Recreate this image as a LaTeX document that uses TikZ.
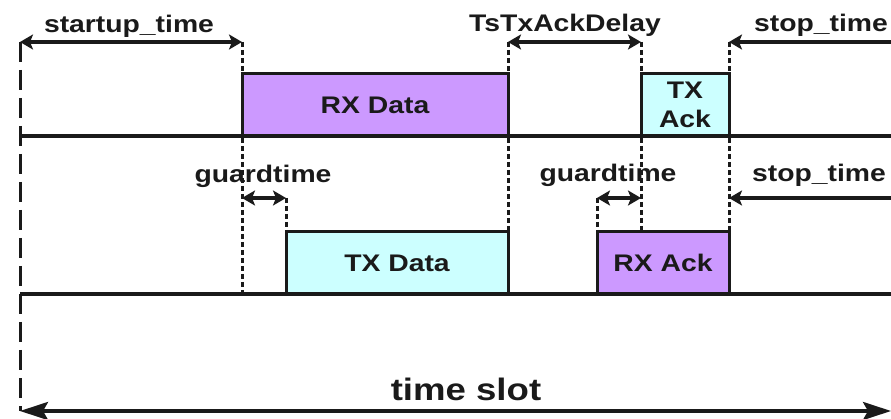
\documentclass[tikz,border=0pt]{standalone}
\usepackage{fontspec}
\usepackage{graphicx}
\setmainfont{Liberation Sans}
\usetikzlibrary{arrows.meta}
\definecolor{rxpurple}{HTML}{CC99FF}
\definecolor{txcyan}{HTML}{CCFFFF}
\definecolor{ink}{HTML}{1A1A1A}
\newcommand\widetext[1]{\scalebox{1.18}[1]{#1}}
\begin{document}
\begin{tikzpicture}[x=1pt,y=-1pt,
  lbl/.style={font=\fontsize{24}{29}\selectfont\bfseries, text=ink, inner sep=0pt, anchor=base},
  slotbox/.style={draw=ink, line width=3pt, inner sep=0pt, outer sep=0pt, anchor=north west,
    minimum height=62pt, font=\fontsize{24}{29}\selectfont\bfseries, text=ink, align=center},
  rxbox/.style={slotbox, fill=rxpurple},
  txbox/.style={slotbox, fill=txcyan},
  baseline/.style={draw=ink, line width=3.5pt},
  marker/.style={draw=ink, line width=3pt, dash pattern=on 5pt off 3pt},
  slotedge/.style={draw=ink, line width=3pt, dash pattern=on 20pt off 8pt},
  span/.style={draw=ink, line width=3.5pt, {Stealth[length=13pt,width=15pt,inset=3pt]}-{Stealth[length=13pt,width=15pt,inset=3pt]}},
  endspan/.style={draw=ink, line width=3.5pt, -{Stealth[length=13pt,width=15pt,inset=3pt]}},
  bigspan/.style={draw=ink, line width=3.5pt, {Stealth[length=28pt,width=18pt,inset=5pt]}-{Stealth[length=28pt,width=18pt,inset=5pt]}}
]
\useasboundingbox[fill=white] (0,0) rectangle (891,419);

% coordinates
\coordinate (L0) at (20,42);
\coordinate (L1) at (20,411);
\coordinate (R1) at (891,411);
\coordinate (a1) at (242,42);
\coordinate (a1b) at (242,294);
\coordinate (a2) at (508,42);
\coordinate (a2b) at (508,232);
\coordinate (a3) at (641,42);
\coordinate (a3b) at (641,232);
\coordinate (a4) at (729,42);
\coordinate (a4b) at (729,232);
\coordinate (g1) at (242,198);
\coordinate (g2) at (286,198);
\coordinate (g2b) at (286,232);
\coordinate (g3) at (597,198);
\coordinate (g3b) at (597,232);
\coordinate (g4) at (641,198);
\coordinate (s1) at (891,42);
\coordinate (s2) at (891,198);
\coordinate (s2e) at (729,198);
\coordinate (b1l) at (20,136);
\coordinate (b1r) at (891,136);
\coordinate (b2l) at (20,294);
\coordinate (b2r) at (891,294);

% base lines
\draw[baseline] (b1l) -- (b1r);
\draw[baseline] (b2l) -- (b2r);

% marker lines
\draw[slotedge] (L0) -- (L1);
\draw[marker] (a1) -- (a1b);
\draw[marker] (a2) -- (a2b);
\draw[marker] (a3) -- (a3b);
\draw[marker] (a4) -- (a4b);
\draw[marker] (g2) -- (g2b);
\draw[marker] (g3) -- (g3b);

% boxes
\node[rxbox, minimum width=266pt] (rxdata) at (242,74) {\widetext{RX Data}};
\node[txbox, minimum width=88pt] (txack) at (641,74) {\widetext{TX}\\\widetext{Ack}};
\node[txbox, minimum width=222pt] (txdata) at (286,232) {\widetext{TX Data}};
\node[rxbox, minimum width=132pt] (rxack) at (597,232) {\widetext{RX Ack}};

% arrows
\draw[span] (L0) -- (a1);
\draw[span] (a2) -- (a3);
\draw[endspan] (s1) -- (a4);
\draw[span] (g1) -- (g2);
\draw[span] (g3) -- (g4);
\draw[endspan] (s2) -- (s2e);
\draw[bigspan] (L1) -- (R1);

% labels
\node[lbl] (tstart) at (129,33) {\widetext{startup\_time}};
\node[lbl] (tdelay) at (565,32) {\widetext{TsTxAckDelay}};
\node[lbl] (tstop1) at (821,32) {\widetext{stop\_time}};
\node[lbl] (tguard1) at (263,183) {\widetext{guardtime}};
\node[lbl] (tguard2) at (608,182) {\widetext{guardtime}};
\node[lbl] (tstop2) at (819,182) {\widetext{stop\_time}};
\node[lbl, font=\fontsize{31}{34}\selectfont\bfseries] (tslot) at (466,400) {\widetext{time slot}};
\end{tikzpicture}
\end{document}
